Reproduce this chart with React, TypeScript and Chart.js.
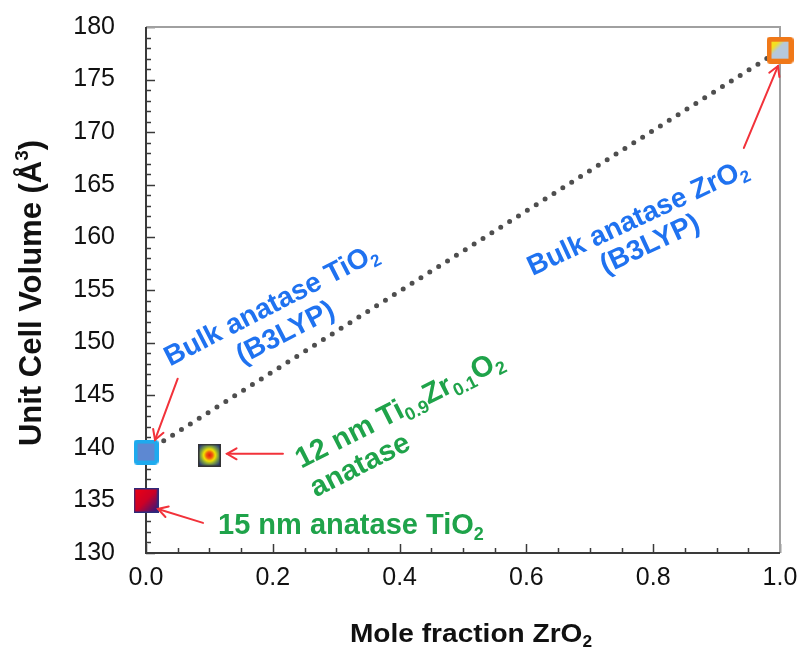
import React, { useEffect, useRef } from "react";
import { Chart, registerables } from "chart.js";
Chart.register(...registerables);

// ---- data ----
const xRange = [0, 1];
const yRange = [130, 180];
const xStep = 0.2;
const yStep = 5;
const pointNames = [
  "Bulk anatase TiO2 (B3LYP)",
  "15 nm anatase TiO2",
  "12 nm Ti0.9Zr0.1O2 anatase",
  "Bulk anatase ZrO2 (B3LYP)",
];
const moleFraction = [0, 0, 0.1, 1.0];
const cellVolume = [139.6, 135.0, 139.3, 177.8];
const trendX = [0, 1];
const trendY = [139.6, 177.8];

// ---- annotation layout (data coordinates) ----
type Seg = { t: string; s?: "sub" | "sup" };
const BLUE = "#1f72f0";
const GREEN = "#1fa34a";
const labels = [
  { lines: [[{ t: "Bulk anatase TiO" }, { t: "2", s: "sub" }], [{ t: "(B3LYP)" }]] as Seg[][], x: 0.2035, y: 152.86, angle: -27.2, align: "center", lh: 31, size: 28, color: BLUE },
  { lines: [[{ t: "Bulk anatase ZrO" }, { t: "2", s: "sub" }], [{ t: "(B3LYP)" }]] as Seg[][], x: 0.781, y: 161.14, angle: -25, align: "center", lh: 29, size: 28, color: BLUE },
  { lines: [[{ t: "12 nm Ti" }, { t: "0.9", s: "sub" }, { t: "Zr" }, { t: "0.1", s: "sub" }, { t: "O" }, { t: "2", s: "sub" }], [{ t: "anatase" }]] as Seg[][], x: 0.245, y: 138.0, angle: -26.8, align: "left", lh: 32, size: 29, color: GREEN },
  { lines: [[{ t: "15 nm anatase TiO" }, { t: "2", s: "sub" }]] as Seg[][], x: 0.1136, y: 131.8, angle: 0, align: "left", lh: 30, size: 29, color: GREEN },
];
const arrows = [
  { from: [0.05, 146.57], to: [0.0142, 140.76] },
  { from: [0.216, 139.43], to: [0.1278, 139.43] },
  { from: [0.0899, 132.86], to: [0.0189, 134.19] },
  { from: [0.943, 168.5], to: [0.9968, 176.29] },
];

const FONT = "'Liberation Sans', Arial, sans-serif";

function drawRich(ctx: CanvasRenderingContext2D, segs: Seg[], x: number, y: number, size: number, weight: string, align: string) {
  const fontFor = (s?: string) => `${weight} ${s ? Math.round(size * 0.62) : size}px ${FONT}`;
  let w = 0;
  for (const sg of segs) { ctx.font = fontFor(sg.s); w += ctx.measureText(sg.t).width; }
  let cx = align === "center" ? x - w / 2 : x;
  ctx.textAlign = "left";
  ctx.textBaseline = "alphabetic";
  for (const sg of segs) {
    ctx.font = fontFor(sg.s);
    const dy = sg.s === "sub" ? size * 0.2 : sg.s === "sup" ? -size * 0.42 : 0;
    ctx.fillText(sg.t, cx, y + dy);
    cx += ctx.measureText(sg.t).width;
  }
}

function makeMarker(size: number, draw: (c: CanvasRenderingContext2D, s: number) => void) {
  const c = document.createElement("canvas");
  c.width = size; c.height = size;
  draw(c.getContext("2d") as CanvasRenderingContext2D, size);
  return c;
}
function rr(ctx: CanvasRenderingContext2D, x: number, y: number, w: number, h: number, r: number) {
  ctx.beginPath();
  ctx.moveTo(x + r, y); ctx.lineTo(x + w - r, y); ctx.quadraticCurveTo(x + w, y, x + w, y + r);
  ctx.lineTo(x + w, y + h - r); ctx.quadraticCurveTo(x + w, y + h, x + w - r, y + h);
  ctx.lineTo(x + r, y + h); ctx.quadraticCurveTo(x, y + h, x, y + h - r);
  ctx.lineTo(x, y + r); ctx.quadraticCurveTo(x, y, x + r, y); ctx.closePath();
}

const annotationPlugin = {
  id: "annot",
  beforeDatasetsDraw(chart: any) {
    const { ctx, chartArea: a, scales } = chart;
    const xs = scales.x, ys = scales.y;
    ctx.save();
    ctx.strokeStyle = "#3a3a3a";
    ctx.lineWidth = 1.5;
    for (let v = yRange[0]; v <= yRange[1] + 1e-9; v += 1) {
      const py = Math.round(ys.getPixelForValue(v)) + 0.5;
      const len = Math.abs(v % yStep) < 1e-6 ? 9 : 5;
      ctx.beginPath(); ctx.moveTo(a.left, py); ctx.lineTo(a.left + len, py); ctx.stroke();
    }
    for (let i = 0; i <= 20; i++) {
      const v = i * 0.05;
      const px = Math.round(xs.getPixelForValue(v)) + 0.5;
      const len = i % 4 === 0 ? 9 : 5;
      ctx.beginPath(); ctx.moveTo(px, a.bottom); ctx.lineTo(px, a.bottom - len); ctx.stroke();
    }
    ctx.lineWidth = 2;
    ctx.strokeStyle = "#a0a0a0";
    ctx.beginPath(); ctx.moveTo(a.left, a.top); ctx.lineTo(a.right, a.top); ctx.lineTo(a.right, a.bottom); ctx.stroke();
    ctx.strokeStyle = "#3a3a3a";
    ctx.beginPath(); ctx.moveTo(a.left, a.top); ctx.lineTo(a.left, a.bottom); ctx.lineTo(a.right, a.bottom); ctx.stroke();
    ctx.restore();
  },
  afterDraw(chart: any) {
    const { ctx, scales } = chart;
    const xs = scales.x, ys = scales.y;
    ctx.save();
    // arrows
    ctx.strokeStyle = "#f2323a";
    ctx.lineWidth = 2;
    ctx.lineCap = "round";
    for (const ar of arrows) {
      const x1 = xs.getPixelForValue(ar.from[0]), y1 = ys.getPixelForValue(ar.from[1]);
      const x2 = xs.getPixelForValue(ar.to[0]), y2 = ys.getPixelForValue(ar.to[1]);
      const ang = Math.atan2(y2 - y1, x2 - x1);
      ctx.beginPath(); ctx.moveTo(x1, y1); ctx.lineTo(x2, y2); ctx.stroke();
      const hl = 11, ha = Math.PI / 6;
      ctx.beginPath();
      ctx.moveTo(x2 - hl * Math.cos(ang - ha), y2 - hl * Math.sin(ang - ha));
      ctx.lineTo(x2, y2);
      ctx.lineTo(x2 - hl * Math.cos(ang + ha), y2 - hl * Math.sin(ang + ha));
      ctx.stroke();
    }
    // labels
    for (const lb of labels) {
      const px = xs.getPixelForValue(lb.x), py = ys.getPixelForValue(lb.y);
      ctx.save();
      ctx.translate(px, py);
      ctx.rotate((lb.angle * Math.PI) / 180);
      ctx.fillStyle = lb.color;
      lb.lines.forEach((segs, i) => drawRich(ctx, segs, 0, i * lb.lh, lb.size, "bold", lb.align));
      ctx.restore();
    }
    // axis titles
    ctx.fillStyle = "#111";
    ctx.save();
    ctx.translate(471, 642);
    ctx.scale(1.08, 1);
    drawRich(ctx, [{ t: "Mole fraction ZrO" }, { t: "2", s: "sub" }], 0, 0, 26, "bold", "center");
    ctx.restore();
    ctx.save();
    ctx.translate(41, 293);
    ctx.rotate(-Math.PI / 2);
    drawRich(ctx, [{ t: "Unit Cell Volume (Å" }, { t: "3", s: "sup" }, { t: ")" }], 0, 0, 31, "bold", "center");
    ctx.restore();
    ctx.restore();
  },
};

export default function App() {
  const ref = useRef<HTMLCanvasElement>(null);
  useEffect(() => {
    const bulkTi = makeMarker(25, (c, s) => {
      c.fillStyle = "#1eaaee"; rr(c, 0, 0, s, s, 4); c.fill();
      c.fillStyle = "#5d88d2"; c.fillRect(4, 4, s - 8, s - 8);
    });
    const nano15 = makeMarker(25, (c, s) => {
      const g = c.createLinearGradient(0, 0, s, s);
      g.addColorStop(0, "#f00012"); g.addColorStop(0.5, "#cc0026"); g.addColorStop(1, "#1c1c8e");
      c.fillStyle = g; c.fillRect(0, 0, s, s);
      c.strokeStyle = "#2c2c7c"; c.lineWidth = 1.5; c.strokeRect(0.75, 0.75, s - 1.5, s - 1.5);
    });
    const nano12 = makeMarker(23, (c, s) => {
      const g = c.createRadialGradient(s / 2, s / 2, 0, s / 2, s / 2, s * 0.6);
      g.addColorStop(0, "#e0200c"); g.addColorStop(0.22, "#f05a10"); g.addColorStop(0.42, "#f2e400");
      g.addColorStop(0.65, "#7c9c44"); g.addColorStop(1, "#1e2e80");
      c.fillStyle = g; c.fillRect(0, 0, s, s);
      c.strokeStyle = "#333"; c.lineWidth = 1.5; c.strokeRect(0.75, 0.75, s - 1.5, s - 1.5);
    });
    const bulkZr = makeMarker(27, (c, s) => {
      c.fillStyle = "#f07818"; rr(c, 0, 0, s, s, 4); c.fill();
      const g = c.createLinearGradient(5, 5, 12, 12);
      g.addColorStop(0, "#f4e020"); g.addColorStop(0.5, "#f4e020"); g.addColorStop(1, "#b6c8dc");
      c.fillStyle = g; c.fillRect(5, 5, s - 10, s - 10);
    });
    const markerImgs = [bulkTi, nano15, nano12, bulkZr];

    const datasets: any[] = moleFraction.map((x, i) => ({
      label: pointNames[i],
      data: [{ x, y: cellVolume[i] }],
      pointStyle: markerImgs[i],
      clip: false,
    }));
    datasets.push({
      label: "trend",
      data: trendX.map((x, i) => ({ x, y: trendY[i] })),
      showLine: true,
      borderColor: "#4e4e4e",
      borderWidth: 5,
      borderDash: [0, 10.5],
      borderCapStyle: "round",
      pointRadius: 0,
      clip: false,
    });

    const chart = new Chart(ref.current as HTMLCanvasElement, {
      type: "scatter",
      data: { datasets },
      options: {
        animation: false,
        responsive: true,
        maintainAspectRatio: false,
        layout: { padding: { top: 27, right: 24, left: 0, bottom: 0 } },
        plugins: { legend: { display: false }, tooltip: { enabled: false } },
        scales: {
          x: {
            type: "linear", min: xRange[0], max: xRange[1],
            grid: { display: false, drawTicks: true, tickLength: 10 }, border: { display: false },
            ticks: { stepSize: xStep, padding: 0, color: "#111", font: { size: 25, family: FONT }, callback: (v: any) => Number(v).toFixed(1) },
            afterFit: (s: any) => { s.height = 102; },
          },
          y: {
            type: "linear", min: yRange[0], max: yRange[1],
            grid: { display: false, drawTicks: true, tickLength: 31 }, border: { display: false },
            ticks: { stepSize: yStep, padding: 0, color: "#111", font: { size: 25, family: FONT } },
            afterFit: (s: any) => { s.width = 146; },
          },
        },
      } as any,
      plugins: [annotationPlugin],
    });
    return () => chart.destroy();
  }, []);
  return (
    <div style={{ position: "absolute", left: 0, top: 0, width: 804, height: 655 }}>
      <canvas ref={ref} />
    </div>
  );
}
